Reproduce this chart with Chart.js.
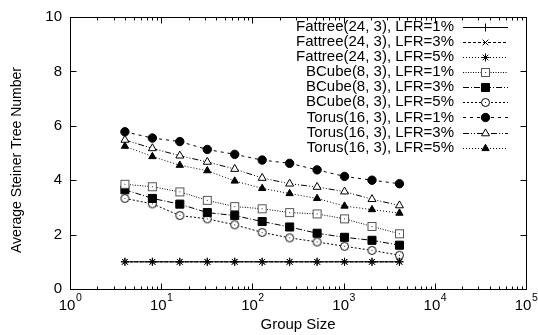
<!DOCTYPE html>
<html>
<head>
<meta charset="utf-8">
<script src="https://cdn.jsdelivr.net/npm/chart.js@4/dist/chart.umd.min.js"></script>
<style>
  html, body { margin: 0; background: #fff; }
</style>
</head>
<body>
<canvas id="chart" width="538" height="335"></canvas>
<script>
// Dados
const groupSizes = [4, 8, 16, 32, 64, 128, 256, 512, 1024, 2048, 4096];

const fattree1 = [1, 1, 1, 1, 1, 1, 1, 1, 1, 1, 1];
const fattree3 = [1, 1, 1, 1, 1, 1, 1, 1, 1, 1, 1];
const fattree5 = [1, 1, 1, 1, 1, 1, 1, 1, 1, 1, 1];
const bcube1   = [3.85, 3.76, 3.57, 3.26, 3.03, 2.95, 2.81, 2.76, 2.58, 2.30, 2.03];
const bcube3   = [3.65, 3.33, 3.12, 2.81, 2.70, 2.48, 2.28, 2.05, 1.90, 1.79, 1.61];
const bcube5   = [3.33, 3.13, 2.70, 2.58, 2.36, 2.08, 1.88, 1.73, 1.57, 1.42, 1.24];
const torus1   = [5.78, 5.55, 5.42, 5.13, 4.95, 4.74, 4.62, 4.38, 4.14, 4.00, 3.87];
const torus3   = [5.48, 5.17, 4.90, 4.67, 4.41, 4.08, 3.87, 3.75, 3.58, 3.30, 3.07];
const torus5   = [5.25, 4.87, 4.55, 4.35, 3.97, 3.70, 3.51, 3.33, 3.05, 2.92, 2.79];

const seriesLabels = [
  'Fattree(24, 3), LFR=1%', 'Fattree(24, 3), LFR=3%', 'Fattree(24, 3), LFR=5%',
  'BCube(8, 3), LFR=1%', 'BCube(8, 3), LFR=3%', 'BCube(8, 3), LFR=5%',
  'Torus(16, 3), LFR=1%', 'Torus(16, 3), LFR=3%', 'Torus(16, 3), LFR=5%'
];
const xTickExps = [0, 1, 2, 3, 4, 5];
const yTicks = [0, 2, 4, 6, 8, 10];

const FONT = '"Liberation Sans", Arial, sans-serif';

// marcadores vazados com ponto central (estilo gnuplot)
function hollow(shape) {
  const c = document.createElement('canvas');
  c.width = c.height = 11;
  const g = c.getContext('2d');
  g.lineWidth = 1;
  g.fillStyle = '#fff';
  if (shape === 'square') {
    g.strokeStyle = '#555';
    g.fillRect(1.5, 1.5, 8, 8);
    g.strokeRect(1.5, 1.5, 8, 8);
  } else {
    g.strokeStyle = '#000';
    g.beginPath();
    g.arc(5.5, 5.5, 4, 0, Math.PI * 2);
    g.fill();
    g.stroke();
  }
  g.fillStyle = '#333';
  g.fillRect(5, 5, 1, 1);
  return c;
}

const toPoints = vals => groupSizes.map((x, i) => ({ x, y: vals[i] }));

function serie(label, vals, dash, style, radius, fill) {
  return {
    label,
    data: toPoints(vals),
    borderColor: '#000',
    borderWidth: 1,
    borderDash: dash,
    pointStyle: style,
    pointRadius: radius,
    pointHoverRadius: radius,
    pointBorderColor: '#000',
    pointBackgroundColor: fill,
    pointBorderWidth: 1,
    fill: false,
    tension: 0,
  };
}

const datasets = [
  serie(seriesLabels[0], fattree1, [], 'cross', 4, '#000'),
  serie(seriesLabels[1], fattree3, [3, 2], 'crossRot', 4, '#000'),
  serie(seriesLabels[2], fattree5, [1, 2], 'star', 4, '#000'),
  serie(seriesLabels[3], bcube1, [1, 1.5], hollow('square'), 5, '#fff'),
  serie(seriesLabels[4], bcube3, [6, 2, 1, 2], 'rect', 5.7, '#000'),
  serie(seriesLabels[5], bcube5, [2, 2], hollow('circle'), 4, '#fff'),
  serie(seriesLabels[6], torus1, [3, 4], 'circle', 4.2, '#000'),
  serie(seriesLabels[7], torus3, [6, 2, 1, 2, 1, 2], 'triangle', 4.6, '#fff'),
  serie(seriesLabels[8], torus5, [1, 2], 'triangle', 4.2, '#000'),
];

// moldura, marcas internas, rótulos 10^n, título Y e legenda
const decor = {
  id: 'decor',
  afterDatasetsDraw(chart) {
    const ctx = chart.ctx;
    const a = chart.chartArea;
    const xs = chart.scales.x, ys = chart.scales.y;
    const L = Math.round(a.left) + 0.5, R = Math.round(a.right) + 0.5;
    const T = Math.round(a.top) + 0.5, B = Math.round(a.bottom) + 0.5;

    ctx.save();
    ctx.strokeStyle = '#000';
    ctx.lineWidth = 1;
    ctx.setLineDash([]);
    ctx.strokeRect(L, T, R - L, B - T);

    ctx.beginPath();
    xTickExps.forEach(d => {
      const px = Math.round(xs.getPixelForValue(10 ** d)) + 0.5;
      ctx.moveTo(px, B); ctx.lineTo(px, B - 6);
      ctx.moveTo(px, T); ctx.lineTo(px, T + 6);
      if (d < 5) {
        for (let m = 2; m <= 9; m++) {
          const mx = Math.round(xs.getPixelForValue(m * 10 ** d)) + 0.5;
          ctx.moveTo(mx, B); ctx.lineTo(mx, B - 3);
          ctx.moveTo(mx, T); ctx.lineTo(mx, T + 3);
        }
      }
    });
    yTicks.forEach(v => {
      const py = Math.round(ys.getPixelForValue(v)) + 0.5;
      ctx.moveTo(L, py); ctx.lineTo(L + 6, py);
      ctx.moveTo(R, py); ctx.lineTo(R - 6, py);
    });
    ctx.stroke();

    // rótulos do eixo X com expoente
    ctx.fillStyle = '#000';
    ctx.textBaseline = 'alphabetic';
    ctx.textAlign = 'left';
    xTickExps.forEach(d => {
      const px = xs.getPixelForValue(10 ** d);
      ctx.font = '15px ' + FONT;
      const wb = ctx.measureText('10').width;
      ctx.font = '10.5px ' + FONT;
      const we = ctx.measureText(String(d)).width;
      const x0 = px - (wb + we) / 2;
      ctx.font = '15px ' + FONT;
      ctx.fillText('10', x0, 310);
      ctx.font = '10.5px ' + FONT;
      ctx.fillText(String(d), x0 + wb + 0.5, 300.5);
    });

    // título do eixo Y
    ctx.save();
    ctx.translate(17, 160);
    ctx.rotate(-Math.PI / 2);
    ctx.font = '14px ' + FONT;
    ctx.textAlign = 'center';
    ctx.textBaseline = 'middle';
    ctx.fillText('Average Steiner Tree Number', 0, 0);
    ctx.restore();

    // legenda manual
    chart.data.datasets.forEach((ds, i) => {
      const y = 26.7 + i * 15.12;
      ctx.font = '15px ' + FONT;
      ctx.textAlign = 'right';
      ctx.textBaseline = 'middle';
      ctx.fillStyle = '#000';
      ctx.fillText(ds.label, 454, y);
      ctx.strokeStyle = '#000';
      ctx.setLineDash(ds.borderDash);
      ctx.beginPath();
      ctx.moveTo(463, Math.round(y) + 0.5);
      ctx.lineTo(508, Math.round(y) + 0.5);
      ctx.stroke();
      ctx.setLineDash([]);
      ctx.fillStyle = ds.pointBackgroundColor;
      ctx.strokeStyle = ds.pointBorderColor;
      Chart.helpers.drawPoint(ctx, {
        pointStyle: ds.pointStyle, radius: ds.pointRadius, borderWidth: 1, rotation: 0
      }, 485.5, Math.round(y) + 0.5);
    });
    ctx.restore();
  }
};

new Chart(document.getElementById('chart').getContext('2d'), {
  type: 'line',
  data: { datasets },
  plugins: [decor],
  options: {
    responsive: false,
    animation: false,
    layout: { padding: { top: 15, right: 12, left: 0, bottom: 0 } },
    plugins: {
      legend: { display: false },
      tooltip: { enabled: false },
    },
    scales: {
      x: {
        type: 'logarithmic',
        min: 1,
        max: 100000,
        grid: { display: false, drawTicks: false },
        border: { display: false },
        ticks: { display: false },
        title: {
          display: true,
          text: 'Group Size',
          color: '#000',
          font: { family: FONT, size: 15 },
          padding: { top: 0, bottom: 1 },
        },
        afterFit: s => { s.height = 46; },
      },
      y: {
        min: 0,
        max: 10,
        grid: { display: false, drawTicks: false },
        border: { display: false },
        ticks: {
          stepSize: 2,
          padding: 8,
          color: '#000',
          font: { family: FONT, size: 15 },
        },
        afterFit: s => { s.width = 70; },
      }
    }
  }
});
</script>
</body>
</html>
